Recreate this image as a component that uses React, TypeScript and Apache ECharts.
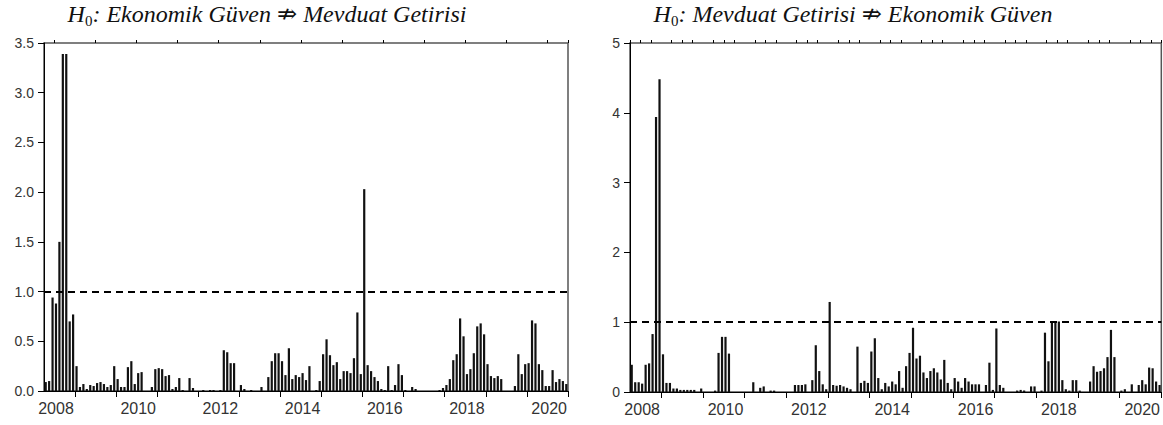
import React, { useEffect, useRef } from "react";
import * as echarts from "echarts";

// ---- data ----
const START_YEAR = 2008;
const START_MONTH = 4; // first observation 2008M04
const N_MONTHS = 153; // through 2020M12
const months: string[] = [];
for (let i = 0; i < N_MONTHS; i++) {
  const m = START_MONTH - 1 + i;
  const y = START_YEAR + Math.floor(m / 12);
  const mm = (m % 12) + 1;
  months.push(`${y}-${String(mm).padStart(2, "0")}`);
}
const yearLabels = ["2008", "2010", "2012", "2014", "2016", "2018", "2020"];

const leftValues = [
  0.09, 0.10, 0.94, 0.88, 1.50, 3.39, 3.39, 0.70, 0.77, 0.25,
  0.04, 0.07, 0.02, 0.06, 0.05, 0.08, 0.09, 0.07, 0.04, 0.06,
  0.25, 0.12, 0.04, 0.04, 0.24, 0.30, 0.07, 0.18, 0.19, 0,
  0, 0.04, 0.22, 0.23, 0.22, 0.15, 0.16, 0.02, 0.04, 0.13,
  0.01, 0, 0.13, 0.03, 0, 0, 0.01, 0, 0.01, 0.01,
  0, 0.01, 0.41, 0.39, 0.28, 0.28, 0, 0.06, 0.02, 0,
  0.01, 0, 0, 0.04, 0, 0.14, 0.30, 0.38, 0.38, 0.30,
  0.16, 0.43, 0.12, 0.16, 0.14, 0.18, 0.11, 0.25, 0, 0.01,
  0.10, 0.37, 0.52, 0.36, 0.26, 0.29, 0.12, 0.20, 0.20, 0.18,
  0.33, 0.79, 0.17, 2.03, 0.26, 0.20, 0.14, 0.10, 0.02, 0.01,
  0.25, 0.01, 0.06, 0.27, 0.16, 0.01, 0, 0.04, 0.02, 0,
  0, 0, 0, 0, 0, 0.01, 0.03, 0.06, 0.12, 0.31,
  0.37, 0.73, 0.55, 0.17, 0.22, 0.38, 0.65, 0.68, 0.57, 0.27,
  0.15, 0.13, 0.15, 0.12, 0, 0, 0, 0.05, 0.37, 0.17,
  0.27, 0.28, 0.71, 0.68, 0.27, 0.21, 0.05, 0.05, 0.21, 0.09,
  0.12, 0.10, 0.07,
];

const rightValues = [
  0.39, 0.14, 0.14, 0.12, 0.39, 0.41, 0.83, 3.94, 4.48, 0.54,
  0.13, 0.13, 0.05, 0.05, 0.03, 0.03, 0.03, 0.03, 0.03, 0,
  0.05, 0, 0, 0, 0.02, 0.56, 0.79, 0.79, 0.55, 0,
  0, 0, 0, 0, 0, 0.14, 0, 0.06, 0.08, 0,
  0.02, 0.02, 0, 0, 0, 0, 0, 0.10, 0.10, 0.10,
  0.11, 0, 0.17, 0.67, 0.30, 0.11, 0.04, 1.29, 0.10, 0.09,
  0.10, 0.08, 0.06, 0.04, 0, 0.65, 0.13, 0.16, 0.13, 0.58,
  0.77, 0.20, 0.04, 0.13, 0.08, 0.15, 0.11, 0.30, 0.06, 0.37,
  0.56, 0.92, 0.48, 0.52, 0.28, 0.20, 0.30, 0.34, 0.28, 0.18,
  0.46, 0.13, 0.04, 0.20, 0.15, 0.06, 0.20, 0.15, 0.11, 0.11,
  0.11, 0, 0.10, 0.42, 0.03, 0.91, 0.10, 0.06, 0, 0,
  0, 0.02, 0.03, 0.02, 0, 0.08, 0.08, 0, 0.02, 0.85,
  0.44, 1.01, 1.01, 1.01, 0.17, 0.04, 0.02, 0.17, 0.17, 0.02,
  0, 0, 0.15, 0.37, 0.29, 0.30, 0.34, 0.50, 0.89, 0.50,
  0, 0.02, 0.04, 0, 0.11, 0, 0.10, 0.17, 0.11, 0.35,
  0.34, 0.15, 0.10,
];

const THRESHOLD = 1;
const leftTitleRest = ": Ekonomik Güven ⇏ Mevduat Getirisi";
const rightTitleRest = ": Mevduat Getirisi ⇏ Ekonomik Güven";

// ---- helpers ----
const monthOf = (v: string) => parseInt(v.slice(5, 7), 10);
const yearOf = (v: string) => v.slice(0, 4);

const TICK_FONT = "'Liberation Sans', Arial, sans-serif";
const AX_COLOR = "#000";
const LABEL_COLOR = "#333";

function xAxesFor(gridIndex: number, shortMonths: number[]) {
  return [
    {
      type: "category",
      gridIndex,
      data: months,
      boundaryGap: true,
      axisLine: { show: true, lineStyle: { color: AX_COLOR, width: 1 } },
      axisTick: {
        show: true,
        alignWithLabel: false,
        length: 6,
        lineStyle: { color: AX_COLOR, width: 1 },
        interval: (_i: number, v: string) => monthOf(v) === 1,
      },
      axisLabel: {
        show: true,
        interval: (_i: number, v: string) =>
          monthOf(v) === 7 && yearLabels.includes(yearOf(v)),
        formatter: (v: string) => yearOf(v),
        color: LABEL_COLOR,
        fontFamily: TICK_FONT,
        fontSize: 16,
        margin: 9,
      },
      splitLine: { show: false },
    },
    {
      type: "category",
      gridIndex,
      data: months,
      boundaryGap: true,
      axisLine: { show: false },
      axisTick: {
        show: true,
        alignWithLabel: false,
        length: 3,
        lineStyle: { color: AX_COLOR, width: 1 },
        interval: (_i: number, v: string) => shortMonths.includes(monthOf(v)),
      },
      axisLabel: { show: false },
      splitLine: { show: false },
    },
  ];
}

function yAxisFor(gridIndex: number, max: number, interval: number, digits: number) {
  return {
    type: "value",
    gridIndex,
    min: 0,
    max,
    interval,
    axisLine: { show: true, lineStyle: { color: AX_COLOR, width: 1 } },
    axisTick: { show: true, length: 6, lineStyle: { color: AX_COLOR } },
    axisLabel: {
      color: LABEL_COLOR,
      fontFamily: TICK_FONT,
      fontSize: 14,
      margin: 10,
      formatter: (v: number) => v.toFixed(digits),
    },
    splitLine: { show: false },
  };
}

function barSeries(values: number[], axisIdx: number, yIdx: number) {
  return {
    type: "bar",
    xAxisIndex: axisIdx,
    yAxisIndex: yIdx,
    data: values,
    barWidth: 2.2,
    itemStyle: { color: "#111" },
    markLine: {
      silent: true,
      symbol: ["none", "none"],
      label: { show: false },
      lineStyle: { color: "#000", type: [7, 5], width: 2 },
      data: [{ yAxis: THRESHOLD }],
    },
  };
}

const TITLE_FONT = "'Liberation Serif', 'DejaVu Serif', serif";

function titleText(x: number, rest: string) {
  return {
    type: "text",
    x,
    y: 0,
    style: {
      text: `{h|H}{s|0}{h|${rest}}`,
      textAlign: "center",
      textVerticalAlign: "top",
      rich: {
        h: {
          fontFamily: TITLE_FONT,
          fontStyle: "italic",
          fontSize: 24,
          lineHeight: 28,
          fill: "#111",
          color: "#111",
        },
        s: {
          fontFamily: TITLE_FONT,
          fontSize: 15,
          lineHeight: 15,
          verticalAlign: "bottom",
          fill: "#111",
          color: "#111",
        },
      },
    },
  };
}

export default function App() {
  const ref = useRef<HTMLDivElement>(null);
  useEffect(() => {
    if (!ref.current) return;
    const chart = echarts.init(ref.current, undefined, { renderer: "svg" });
    chart.setOption({
      animation: false,
      backgroundColor: "#fff",
      grid: [
        {
          left: 44, top: 43, width: 524, height: 348,
          show: true, borderColor: "#555", borderWidth: 1.5, backgroundColor: "transparent",
        },
        {
          left: 630, top: 43, width: 533, height: 349,
          show: true, borderColor: "#555", borderWidth: 1.5, backgroundColor: "transparent",
        },
      ],
      xAxis: [...xAxesFor(0, [7]), ...xAxesFor(1, [4, 7, 10])],
      yAxis: [yAxisFor(0, 3.5, 0.5, 1), yAxisFor(1, 5, 1, 0)],
      series: [barSeries(leftValues, 0, 0), barSeries(rightValues, 2, 1)],
      graphic: [titleText(267, leftTitleRest), titleText(853, rightTitleRest)],
    });
    return () => chart.dispose();
  }, []);
  return (
    <div
      ref={ref}
      style={{ position: "fixed", left: 0, top: 0, width: 1163, height: 425, background: "#fff" }}
    />
  );
}
